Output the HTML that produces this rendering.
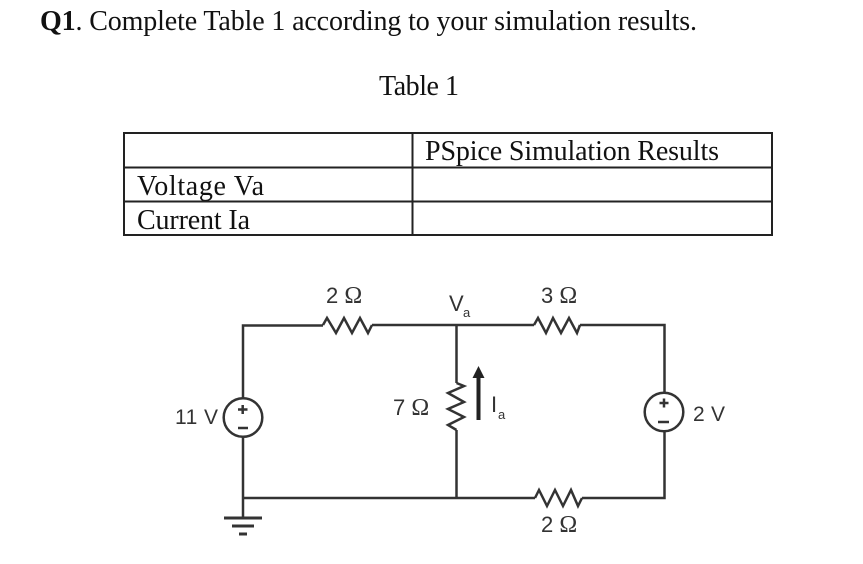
<!DOCTYPE html>
<html>
<head>
<meta charset="utf-8">
<style>
html,body{margin:0;padding:0;background:#fff;}
body{width:863px;height:564px;overflow:hidden;}
svg{display:block;}
</style>
</head>
<body>
<svg width="863" height="564" viewBox="0 0 863 564" xmlns="http://www.w3.org/2000/svg">
  <!-- heading text -->
  <g font-family="'Liberation Serif',serif" fill="#111" font-size="28">
    <text x="40" y="30" textLength="657" lengthAdjust="spacing"><tspan font-weight="bold">Q1</tspan>. Complete Table 1 according to your simulation results.</text>
    <text x="379" y="95" textLength="80" lengthAdjust="spacing">Table 1</text>
    <text x="425" y="160" textLength="294" lengthAdjust="spacing">PSpice Simulation Results</text>
    <text x="137" y="195" textLength="127" lengthAdjust="spacing">Voltage Va</text>
    <text x="137" y="229" textLength="113" lengthAdjust="spacing">Current Ia</text>
  </g>
  <!-- table -->
  <g stroke="#222" stroke-width="2" fill="none">
    <rect x="124" y="133" width="648" height="102"/>
    <line x1="124" y1="167.500" x2="772" y2="167.500"/>
    <line x1="124" y1="201.500" x2="772" y2="201.500"/>
    <line x1="412.500" y1="133" x2="412.500" y2="235"/>
  </g>
  <!-- circuit wires -->
  <g stroke="#333" stroke-width="2.500" fill="none" stroke-linejoin="miter">
    <path d="M243 398V325.500H323"/>
    <path d="M372 325H534"/>
    <path d="M580 325H664.500V392"/>
    <path d="M664.500 431V498H582"/>
    <path d="M535 498H242.500"/>
    <path d="M243 436V518"/>
    <path d="M456.500 325V383"/>
    <path d="M456.500 430V498"/>
    <!-- resistors -->
    <path d="M323 325L327 318L336 333L344 318L352 333L360 318L368 333L372 325"/>
    <path d="M534 325L538 318L546 333L553 318L561 333L569 318L577 333L580 325"/>
    <path d="M535 498L539 490L547 506L555 490L563 506L571 490L578 506L582 498"/>
    <path d="M456.500 383L464 386L448 393L464 402L448 409L464 417L448 425L456.500 430"/>
    <!-- sources -->
    <circle cx="243" cy="417.500" r="19.300"/>
    <circle cx="664" cy="412" r="19.300"/>
    <!-- ground -->
    <line x1="224" y1="518" x2="262" y2="518" stroke-width="3"/>
    <line x1="232" y1="526" x2="254" y2="526" stroke-width="3"/>
    <line x1="239" y1="534" x2="247" y2="534" stroke-width="3"/>
    <!-- signs -->
    <path d="M238 409.500H247.500M242.700 405V414M238 428H248"/>
    <path d="M659.500 403H668.500M664 398.500V407.500M658 422H669"/>
  </g>
  <!-- Ia arrow -->
  <rect x="476.500" y="375" width="4" height="45" fill="#222"/>
  <polygon points="478.500,366 484.500,378 472.500,378" fill="#222"/>
  <!-- circuit labels -->
  <g font-family="'Liberation Sans',sans-serif" fill="#333" font-size="22">
    <text x="326" y="303">2 <tspan font-family="'Liberation Serif',serif" font-size="24">Ω</tspan></text>
    <text x="541" y="303">3 <tspan font-family="'Liberation Serif',serif" font-size="24">Ω</tspan></text>
    <text x="393" y="415">7 <tspan font-family="'Liberation Serif',serif" font-size="24">Ω</tspan></text>
    <text x="541" y="532">2 <tspan font-family="'Liberation Serif',serif" font-size="24">Ω</tspan></text>
    <text x="175" y="424" textLength="43" lengthAdjust="spacing" font-size="21">11 V</text>
    <text x="693" y="421" textLength="32" lengthAdjust="spacing" font-size="21">2 V</text>
    <text x="449" y="311" font-size="22">V</text>
    <text x="463" y="317" font-size="13">a</text>
    <text x="491" y="412" font-size="22">I</text>
    <text x="498" y="419" font-size="13">a</text>
  </g>
</svg>
</body>
</html>
